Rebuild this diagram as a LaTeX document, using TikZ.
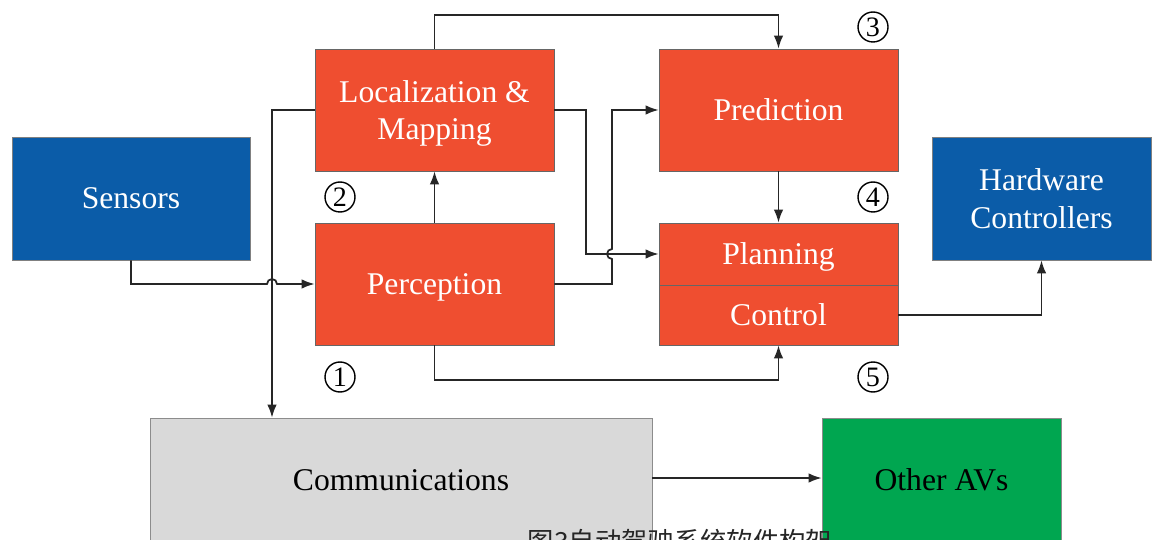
\documentclass[tikz,border=0pt]{standalone}
\usepackage{fontspec}
\setmainfont{Liberation Serif}
\newfontfamily\cjkfont{Noto Sans CJK SC}
\usetikzlibrary{positioning}
\usetikzlibrary{arrows.meta}
\definecolor{modred}{HTML}{EF4E30}
\definecolor{hwblue}{HTML}{0B5CA8}
\definecolor{avgreen}{HTML}{00A650}
\definecolor{comgray}{HTML}{D9D9D9}
\tikzset{
    modbox/.style = {rectangle, draw=black!60, fill=modred, text=white, align=center, text depth=0pt, minimum width=4.78cm, minimum height=2.44cm, font=\fontsize{18}{21.5}\selectfont},
    hwbox/.style = {rectangle, draw=black!50, fill=hwblue, text=white, align=center, text depth=0pt, minimum height=2.46cm, font=\fontsize{18}{21.5}\selectfont},
    extbox/.style = {rectangle, draw=black!45, align=center, text depth=0pt, minimum height=2.48cm, font=\fontsize{18}{21.5}\selectfont},
    stepnum/.style = {circle, draw=black, line width=0.8pt, inner sep=0pt, minimum size=0.6cm, font=\fontsize{16}{16}\selectfont},
    edgen/.style = {-{Latex[length=0.26cm,width=0.19cm]}, line width=1pt, black!85},
}

\begin{document}
\begin{tikzpicture}[x=0.02cm, y=-0.02cm]
  \clip (0,0) rectangle (1162,540);
  \fill[white] (0,0) rectangle (1162,540);

  \node[hwbox, minimum width=4.76cm] (sen) at (131,198.5) {Sensors};
  \node[modbox] (loc) at (434.5,110) {Localization \&\\Mapping};
  \node[modbox] (per) at (434.5,284) {Perception};
  \node[modbox] (pre) at (778.5,110) {Prediction};
  \node[modbox, minimum height=1.24cm] (pla) at (778.5,254) {Planning};
  \node[modbox, minimum height=1.20cm] (con) at (778.5,315) {Control};
  \node[hwbox, minimum width=4.38cm] (hw) at (1041.5,198.5) {Hardware\\Controllers};
  \node[extbox, fill=comgray, minimum width=10.04cm] (com) at (401,480) {Communications};
  \node[extbox, fill=avgreen, minimum width=4.78cm] (oav) at (941.5,480) {Other AVs};

  \node[stepnum] (n1) at (340,377) {1};
  \node[stepnum] (n2) at (340,197) {2};
  \node[stepnum] (n3) at (873,27) {3};
  \node[stepnum] (n4) at (873,197) {4};
  \node[stepnum] (n5) at (873,377) {5};

  \coordinate (hop1) at (272,284);
  \coordinate (hop2) at (612,254);
  \coordinate (j1) at (586,110);

  \draw[edgen] (sen.south) |- ([xshift=-0.1cm]hop1) arc[start angle=180, end angle=0, radius=0.1cm] -- (per.west);
  \draw[edgen] (loc.west) -| (hop1 |- com.north);
  \draw[edgen] (loc.north) -- ++(0,-34) -| (pre.north);
  \draw[edgen] (loc.east) -- (j1) |- (pla.west);
  \draw[edgen] (per.east) -| ([yshift=-0.1cm]hop2) arc[start angle=-90, end angle=-270, radius=0.1cm] |- (pre.west);
  \draw[edgen] (per.north) -- (loc.south);
  \draw[edgen] (per.south) -- ++(0,35) -| (con.south);
  \draw[edgen] (pre.south) -- (pla.north);
  \draw[edgen] (con.east) -| (hw.south);
  \draw[edgen] (com.east |- 0,478) -- (oav.west |- 0,478);

  \node[font=\cjkfont\fontsize{15}{15}\selectfont, text=black!85] (cap) at (680,541) {图3自动驾驶系统软件构架};
\end{tikzpicture}
\end{document}
